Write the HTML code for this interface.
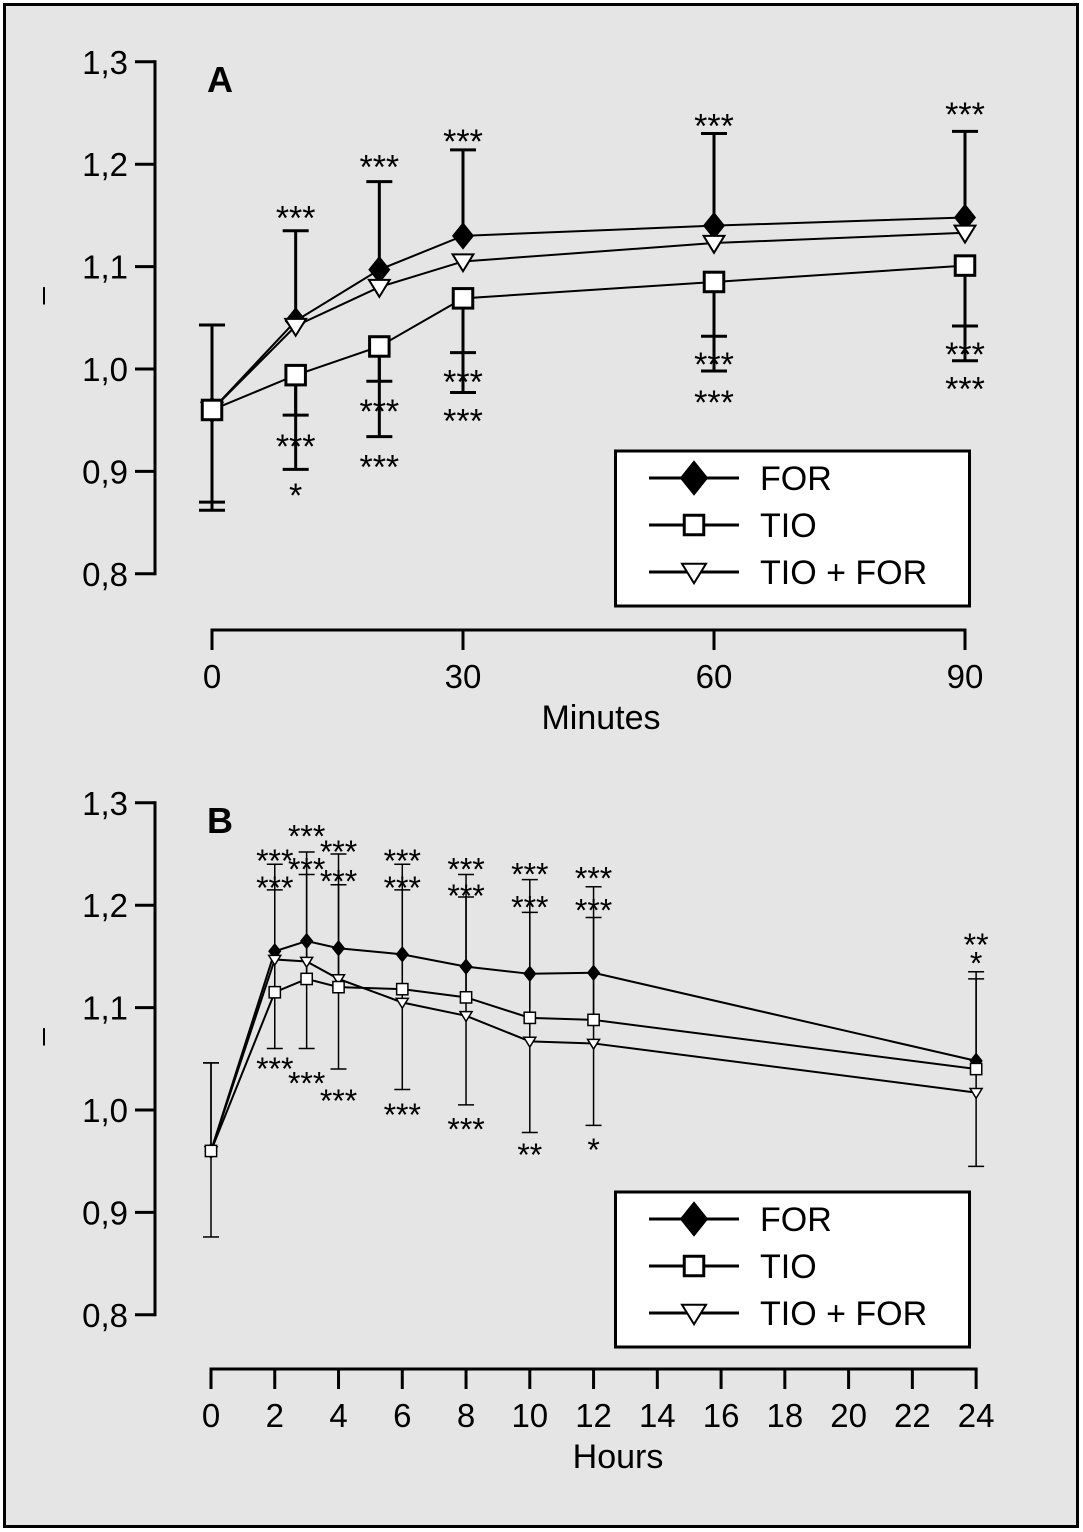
<!DOCTYPE html>
<html><head><meta charset="utf-8"><style>
html,body{margin:0;padding:0;background:#fff;}
svg{display:block;font-family:"Liberation Sans",sans-serif;}
</style></head><body>
<svg id="chart" width="1083" height="1532" viewBox="0 0 1083 1532">
<rect x="4.5" y="4.5" width="1073" height="1522" fill="#e5e5e5" stroke="#000" stroke-width="3"/>
<g id="pa"></g>
<g id="pb"></g>
</svg>
<script>
// Panel A data (minutes)
const timesA = [0, 10, 20, 30, 60, 90];
const forA = [0.96, 1.047, 1.097, 1.13, 1.14, 1.148];
const tioA = [0.96, 0.994, 1.022, 1.069, 1.085, 1.101];
const tfA = [0.96, 1.042, 1.08, 1.105, 1.123, 1.133];
const errHiA1 = [1.043, 1.135, 1.183, 1.214, 1.23, 1.232];
const errLoA1 = [0.87, 0.955, 0.988, 1.016, 1.032, 1.042];
const errLoA2 = [0.862, 0.902, 0.934, 0.977, 0.998, 1.008];
const xTicksA = [0, 30, 60, 90];
const yTicks = [0.8, 0.9, 1.0, 1.1, 1.2, 1.3];
const yTickLabels = ["0,8", "0,9", "1,0", "1,1", "1,2", "1,3"];
const starsA = [[10,1.155,"***"],[10,0.932,"***"],[10,0.884,"*"],[20,1.205,"***"],[20,0.966,"***"],[20,0.912,"***"],
 [30,1.230,"***"],[30,0.995,"***"],[30,0.957,"***"],[60,1.245,"***"],[60,1.012,"***"],[60,0.975,"***"],
 [90,1.256,"***"],[90,1.022,"***"],[90,0.988,"***"]];
// Panel B data (hours)
const timesB = [0, 2, 3, 4, 6, 8, 10, 12, 24];
const forB = [0.96, 1.155, 1.165, 1.158, 1.152, 1.14, 1.133, 1.134, 1.048];
const tioB = [0.96, 1.115, 1.128, 1.12, 1.118, 1.11, 1.09, 1.088, 1.04];
const tfB = [0.96, 1.147, 1.145, 1.128, 1.105, 1.092, 1.067, 1.065, 1.017];
const errHiB1 = [1.046, 1.24, 1.252, 1.25, 1.24, 1.23, 1.225, 1.218, 1.135];
const errHiB2 = [1.046, 1.215, 1.23, 1.22, 1.215, 1.208, 1.193, 1.188, 1.128];
const errLoB = [0.876, 1.06, 1.06, 1.04, 1.02, 1.005, 0.978, 0.985, 0.945];
const xTicksB = [0,2,4,6,8,10,12,14,16,18,20,22,24];
const starsB = [[2,1.250,"***"],[2,1.224,"***"],[2,1.047,"***"],[3,1.274,"***"],[3,1.242,"***"],[3,1.033,"***"],
 [4,1.259,"***"],[4,1.230,"***"],[4,1.016,"***"],[6,1.250,"***"],[6,1.224,"***"],[6,1.002,"***"],
 [8,1.242,"***"],[8,1.216,"***"],[8,0.988,"***"],[10,1.237,"***"],[10,1.205,"***"],[10,0.963,"**"],
 [12,1.233,"***"],[12,1.202,"***"],[12,0.968,"*"],[24,1.168,"**"],[24,1.150,"*"]];

const NS="http://www.w3.org/2000/svg";
function mk(p,tag,a,txt){const e=document.createElementNS(NS,tag);for(const k in a)e.setAttribute(k,a[k]);if(txt!==undefined)e.textContent=txt;p.appendChild(e);return e;}

function marker(g,kind,x,y,s){
  let e;
  if(kind==="for"){e=mk(g,"polygon",{points:`${x},${y-s} ${x+s*0.8},${y} ${x},${y+s} ${x-s*0.8},${y}`,fill:"#000",stroke:"#000","stroke-width":1});}
  else if(kind==="tio"){e=mk(g,"rect",{x:x-s*0.75,y:y-s*0.75,width:s*1.5,height:s*1.5,fill:"#fff",stroke:"#000","stroke-width":s>9?3:1.5});}
  else {e=mk(g,"polygon",{points:`${x-s*0.8},${y-s*0.55} ${x+s*0.8},${y-s*0.55} ${x},${y+s*0.75}`,fill:"#fff",stroke:"#000","stroke-width":s>9?2:1.5});}
  return e;
}

function panel(g,o){
  const X=v=>o.x0+v*o.xs, Y=v=>o.y10-(v-1)*1024;
  let ax=mk(g,"line",{x1:o.ax,y1:Y(1.3)-1.5,x2:o.ax,y2:Y(0.8)+1.5,stroke:"#000","stroke-width":3});
  
  
  yTicks.forEach((t,i)=>{
    let l=mk(g,"line",{x1:o.ax-20,y1:Y(t),x2:o.ax,y2:Y(t),stroke:"#000","stroke-width":3});
    
    
    let tx=mk(g,"text",{x:o.ax-27,y:Y(t)+12,"text-anchor":"end","font-size":33},yTickLabels[i]);
    
    
  });
  let yl=mk(g,"line",{x1:44,y1:Y(1.08),x2:44,y2:Y(1.063),stroke:"#000","stroke-width":2});
  
  
  let ttl=mk(g,"text",{x:o.ax+52,y:Y(1.3)+30,"font-size":36,"font-weight":"bold"},o.label);
  
  
  const xt=o.xticks;
  let xa=mk(g,"line",{x1:X(xt[0])-1.5,y1:o.xay,x2:X(xt[xt.length-1])+1.5,y2:o.xay,stroke:"#000","stroke-width":3});
  
  
  xt.forEach(t=>{
    let l=mk(g,"line",{x1:X(t),y1:o.xay,x2:X(t),y2:o.xay+20,stroke:"#000","stroke-width":3});
    
    
    let tx=mk(g,"text",{x:X(t),y:o.xay+58,"text-anchor":"middle","font-size":33},String(t));
    
    
  });
  let xtl=mk(g,"text",{x:o.xtitleX,y:o.xay+99,"text-anchor":"middle","font-size":34},o.xtitle);
  
  
  const cap=o.cap;
  const eb=(v1,v2,tarr)=>tarr.forEach((t,i)=>{
    let l=mk(g,"line",{x1:X(t),y1:Y(v1[i]),x2:X(t),y2:Y(v2[i]),stroke:"#000","stroke-width":o.ew});
    
    
    let c=mk(g,"line",{x1:X(t)-cap,y1:Y(v1[i]),x2:X(t)+cap,y2:Y(v1[i]),stroke:"#000","stroke-width":o.ew});
    
    
  });
  o.errs.forEach(e=>eb(e[0],e[1],o.times));
  const series=[["for",o.f,"series-for"],["tio",o.ti,"series-tio"],["tf",o.tf,"series-tio-for"]];
  series.forEach(s=>{
    let pl=mk(g,"polyline",{points:o.times.map((t,i)=>X(t)+","+Y(s[1][i])).join(" "),fill:"none",stroke:"#000","stroke-width":o.lw});
    
    
  });
  [series[0],series[2],series[1]].forEach(s=>{
    o.times.forEach((t,i)=>{
      let m=marker(g,s[0],X(t),Y(s[1][i]),o.ms);
      
      
    });
  });
  o.stars.forEach(s=>{
    let tx=mk(g,"text",{x:X(s[0]),y:Y(s[1])+o.sfs*0.57,"text-anchor":"middle","font-size":o.sfs},s[2]);
    
    
  });
  const lg=mk(g,"g",{});
  
  
  mk(lg,"rect",{x:615.5,y:o.ly,width:354,height:155,fill:"#fff",stroke:"#000","stroke-width":3});
  [["for","FOR",27],["tio","TIO",74],["tf","TIO + FOR",121]].forEach(r=>{
    const ry=o.ly+r[2];
    const eg=mk(lg,"g",{});
    
    
    mk(eg,"line",{x1:649,y1:ry,x2:739,y2:ry,stroke:"#000","stroke-width":3});
    marker(eg,r[0],694,ry,r[0]==="for"?17:(r[0]==="tio"?13:15));
    mk(eg,"text",{x:760,y:ry+12,"font-size":34},r[1]);
  });
}

panel(document.getElementById("pa"),{x0:212,xs:(965-212)/90,y10:369,ax:155,xay:630,label:"A",xticks:xTicksA,
  xtitle:"Minutes",xtitleX:601,times:timesA,f:forA,ti:tioA,tf:tfA,errs:[[errHiA1,forA],[errLoA1,tioA],[errLoA2,tioA]],
  cap:13,ew:3,lw:2,ms:13,stars:starsA,sfs:34,ly:451});
panel(document.getElementById("pb"),{x0:211,xs:31.88,y10:1110,ax:155,xay:1369,label:"B",xticks:xTicksB,
  xtitle:"Hours",xtitleX:618,times:timesB,f:forB,ti:tioB,tf:tfB,errs:[[errHiB1,tioB],[errHiB2,tfB],[errLoB,tfB]],
  cap:8,ew:1.5,lw:2,ms:7.5,stars:starsB,sfs:32,ly:1192});
</script>
</body></html>
